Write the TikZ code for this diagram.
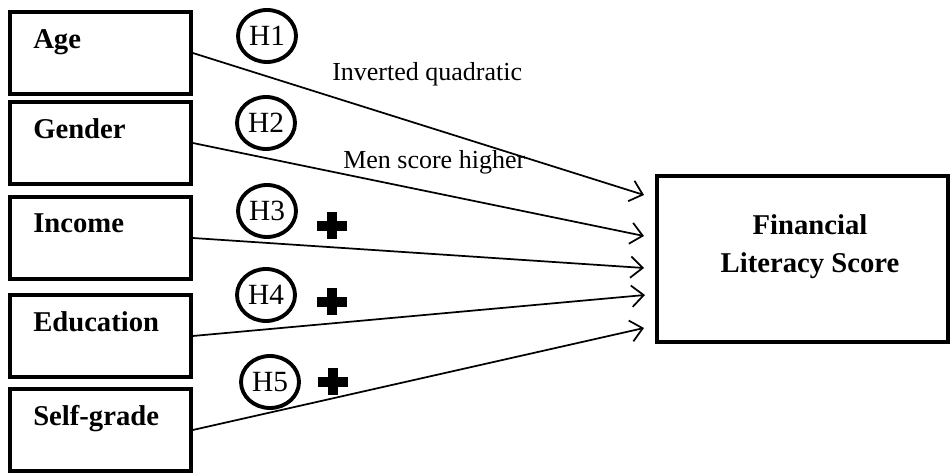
\documentclass[tikz,border=0pt]{standalone}
\usepackage{fontspec}
\setmainfont{Liberation Serif}
\usetikzlibrary{arrows.meta,calc,shapes.geometric}

\begin{document}
\begin{tikzpicture}[x=0.75pt,y=-0.75pt,
  factor/.style={draw, line width=2.7pt, minimum width=135.75pt,
    minimum height=61.5pt, inner sep=0pt},
  factorname/.style={anchor=base west, inner sep=0pt,
    font=\fontsize{21.5}{25}\selectfont\bfseries},
  outcome/.style={draw, line width=3pt, minimum width=218.25pt,
    minimum height=124.5pt, inner sep=0pt},
  outcomename/.style={inner sep=0pt, align=center,
    font=\fontsize{21.5}{28.5}\selectfont\bfseries},
  hyp/.style={draw, ellipse, line width=2.9pt, minimum width=43.5pt,
    minimum height=39pt, inner sep=0pt, font=\fontsize{22}{25}\selectfont},
  effect/.style={anchor=base west, inner sep=0pt,
    font=\fontsize{19.5}{23}\selectfont},
  link/.style={line width=1.3pt, -{Straight Barb[length=9pt,width=16pt,line width=1.3pt]}},
  plussign/.pic={
    \fill (-15,-5) rectangle (15,5);
    \fill (-5,-13.5) rectangle (5,13.5);
  }]

\useasboundingbox (0,0) rectangle (951,473);

% predictor boxes
\node[factor] (age)  at (100.5,53)  {};
\node[factor] (gen)  at (100.5,143) {};
\node[factor] (inc)  at (100.5,238) {};
\node[factor] (edu)  at (100.5,336) {};
\node[factor] (self) at (100.5,430) {};

\node[factorname] (agetxt)  at (33,49)  {Age};
\node[factorname] (gentxt)  at (33,139) {Gender};
\node[factorname] (inctxt)  at (33,233) {Income};
\node[factorname] (edutxt)  at (33,332) {Education};
\node[factorname] (selftxt) at (33,426) {Self-grade};

% outcome box
\node[outcome] (fls) at (802.5,259) {};
\node[outcomename] (flstxt) at (810,247) {Financial\\Literacy Score};

% arrow end points just left of the outcome box
\coordinate (e1) at ($(fls.west)+(-11,-64)$);
\coordinate (e2) at ($(fls.west)+(-11,-23)$);
\coordinate (e3) at ($(fls.west)+(-11,9)$);
\coordinate (e4) at ($(fls.west)+(-10,36)$);
\coordinate (e5) at ($(fls.west)+(-11,69)$);

\draw[link] (age.east)  -- (e1);
\draw[link] (gen.east)  -- (e2);
\draw[link] (inc.east)  -- (e3);
\draw[link] (edu.east)  -- (e4);
\draw[link] (self.east) -- (e5);

% hypothesis markers
\node[hyp] (h1) at (267,36)  {H1};
\node[hyp] (h2) at (266,123) {H2};
\node[hyp] (h3) at (267,211) {H3};
\node[hyp] (h4) at (266,295) {H4};
\node[hyp] (h5) at (270,382) {H5};

\pic at (332,226) {plussign};
\pic at (332,302) {plussign};
\pic at (333,382) {plussign};

% expected effects
\node[effect] (q) at (332,81)  {Inverted quadratic};
\node[effect] (m) at (343,169) {Men score higher};

\end{tikzpicture}
\end{document}
